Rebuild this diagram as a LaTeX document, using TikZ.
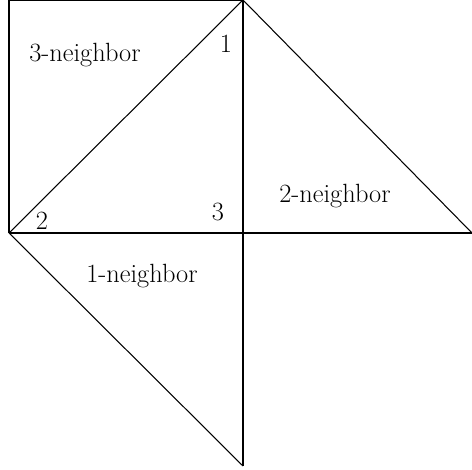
\documentclass[tikz,border=0pt]{standalone}
\usepackage{tikz}
\usetikzlibrary{positioning}

\begin{document}
\begin{tikzpicture}[x=0.02cm, y=-0.02cm,
    edge/.style={line width=0.6pt},
    lbl/.style={font=\fontsize{15}{18}\selectfont, inner sep=0pt}]
  \useasboundingbox (0,0) rectangle (472,469);
  % vertices
  \coordinate (tl) at (9,0);
  \coordinate (top) at (243,0);
  \coordinate (left) at (9,233);
  \coordinate (mid) at (243,233);
  \coordinate (right) at (472,233);
  \coordinate (bot) at (243,466);
  % square and triangles
  \draw[edge] (left) -- (tl) -- (top);
  \draw[edge] (left) -- (top);
  \draw[edge] (top) -- (bot);
  \draw[edge] (left) -- (right);
  \draw[edge] (top) -- (right);
  \draw[edge] (left) -- (bot);
  % labels
  \node[lbl] (n3) at (85,55) {3-neighbor};
  \node[lbl] (n2) at (335,196) {2-neighbor};
  \node[lbl] (n1) at (142,276) {1-neighbor};
  \node[lbl] (v1) at (226,44) {1};
  \node[lbl] (v2) at (42,221) {2};
  \node[lbl] (v3) at (218,212) {3};
\end{tikzpicture}
\end{document}
